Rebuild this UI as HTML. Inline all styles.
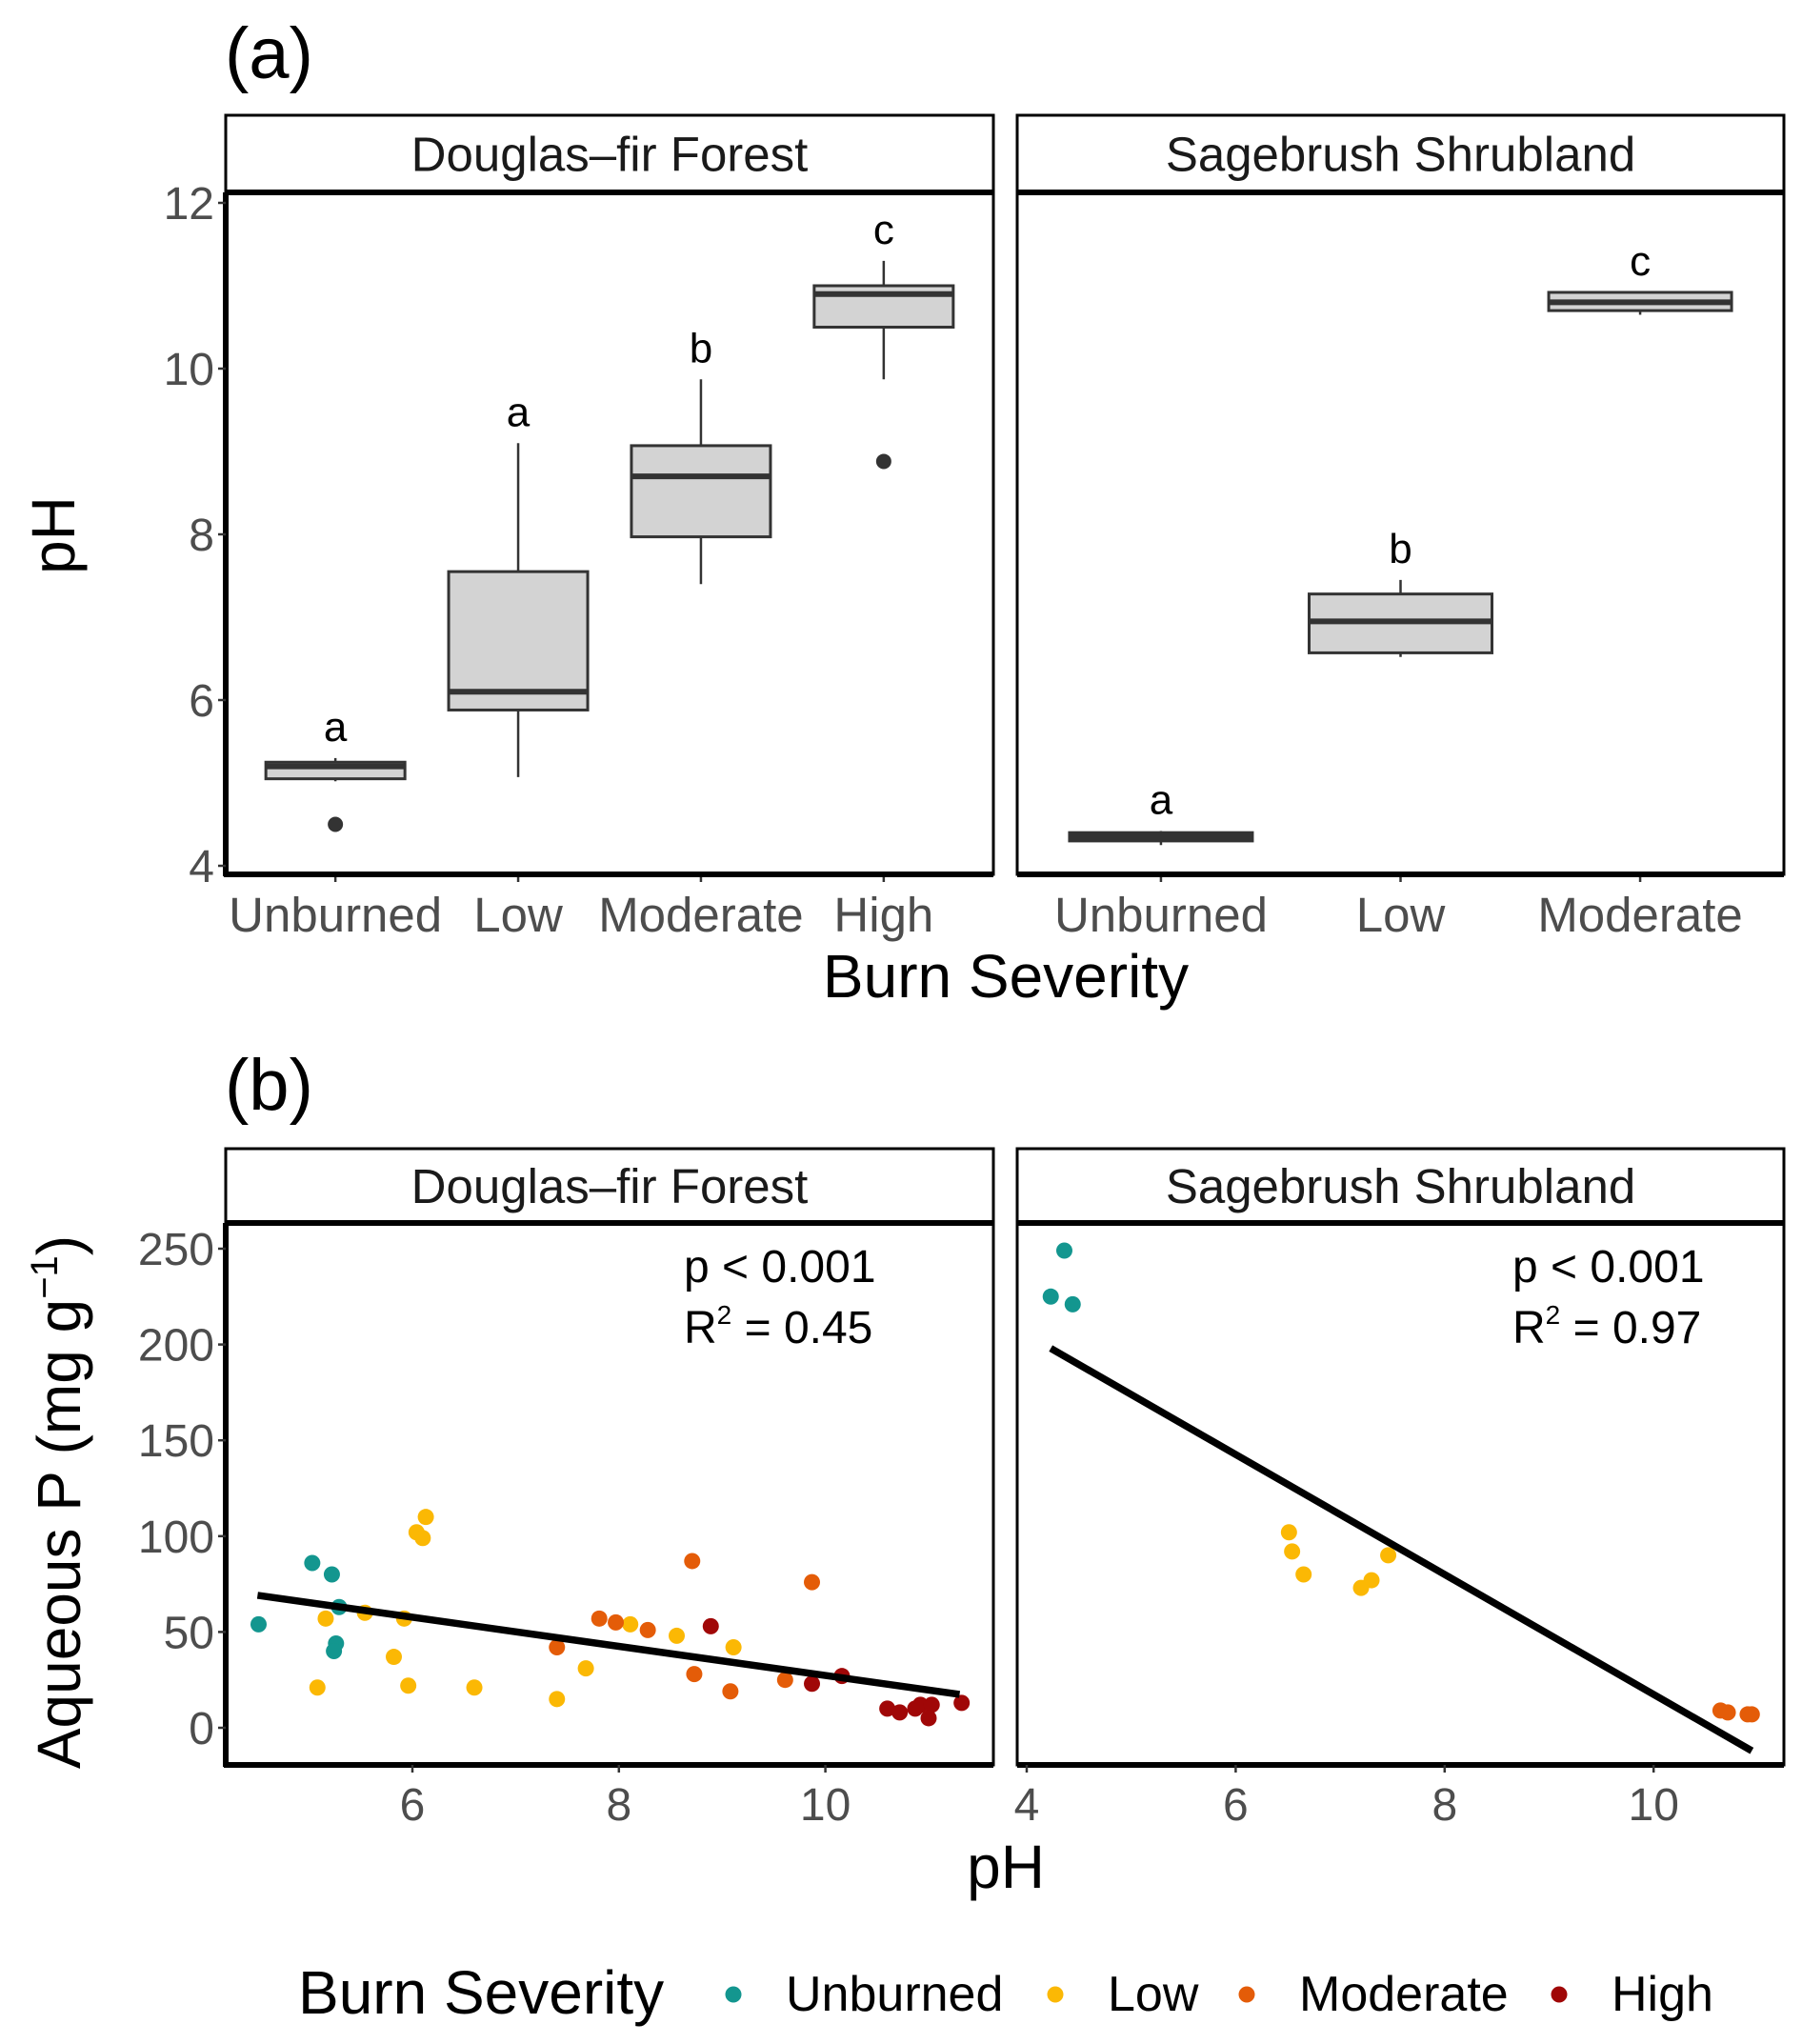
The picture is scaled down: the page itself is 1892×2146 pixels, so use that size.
<!DOCTYPE html>
<html><head><meta charset="utf-8"><style>
html,body{margin:0;padding:0;background:#fff}
svg{display:block}
text{font-family:"Liberation Sans",Arial,sans-serif}
</style></head><body>
<svg id="fig" xmlns="http://www.w3.org/2000/svg" width="1892" height="2146" viewBox="0 0 1892 2146"></svg>
<script>
// ---------- Panel (a) data ----------
const dfCats = ["Unburned","Low","Moderate","High"];
const dfQ1 = [5.05, 5.88, 7.97, 10.5];
const dfMed = [5.2, 6.1, 8.7, 10.9];
const dfQ3 = [5.25, 7.55, 9.07, 11.0];
const dfLo = [5.02, 5.07, 7.4, 9.87];
const dfHi = [5.3, 9.1, 9.87, 11.3];
const dfOut = [[4.5], [], [], [8.88]];
const dfLetters = ["a","a","b","c"];
const ssCats = ["Unburned","Low","Moderate"];
const ssQ1 = [4.3, 6.57, 10.7];
const ssMed = [4.35, 6.95, 10.8];
const ssQ3 = [4.4, 7.28, 10.92];
const ssLo = [4.25, 6.52, 10.65];
const ssHi = [4.42, 7.45, 10.92];
const ssLetters = ["a","b","c"];
const phTicks = [4, 6, 8, 10, 12];

// ---------- Panel (b) data ----------
const dfUnbX = [4.51, 5.03, 5.22, 5.29, 5.26, 5.24];
const dfUnbY = [54, 86, 80, 63, 44, 40];
const dfLowX = [5.16, 5.08, 5.54, 5.92, 5.82, 5.96, 6.04, 6.1, 6.13, 6.6, 7.4, 7.68, 8.11, 8.56, 9.11];
const dfLowY = [57, 21, 60, 57, 37, 22, 102, 99, 110, 21, 15, 31, 54, 48, 42];
const dfModX = [7.4, 7.81, 7.97, 8.28, 8.71, 8.73, 9.08, 9.61, 9.87];
const dfModY = [42, 57, 55, 51, 87, 28, 19, 25, 76];
const dfHighX = [8.89, 9.87, 10.16, 10.6, 10.72, 10.87, 10.92, 11.03, 11.0, 11.32];
const dfHighY = [53, 23, 27, 10, 8, 10, 12, 12, 5, 13];
const ssUnbX = [4.36, 4.23, 4.44];
const ssUnbY = [249, 225, 221];
const ssLowX = [6.51, 6.54, 6.65, 7.2, 7.3, 7.46];
const ssLowY = [102, 92, 80, 73, 77, 90];
const ssModX = [10.64, 10.71, 10.9, 10.94];
const ssModY = [9, 8, 7, 7];
const dfFit = [103.3, -7.6, 4.5, 11.3]; // intercept, slope, xmin, xmax
const ssFit = [330.4, -31.3, 4.23, 10.94];
const pTicksY = [0, 50, 100, 150, 200, 250];
const dfTicksX = [6, 8, 10];
const ssTicksX = [4, 6, 8, 10];

const colors = {Unburned:"#13968f", Low:"#fbb804", Moderate:"#e45c08", High:"#a00707"};
const NS = "http://www.w3.org/2000/svg";
const svg = document.getElementById("fig");
function mk(tag, attrs, parent, txt){
  const e = document.createElementNS(NS, tag);
  for (const k in attrs) e.setAttribute(k, attrs[k]);
  if (txt !== undefined) e.textContent = txt;
  (parent || svg).appendChild(e);
  return e;
}

// ---------- layout ----------
const LX0=237, LX1=1043, RX0=1068, RX1=1873;
const aStripT=121, aTop=202, aBot=918;
const bStripT=1206, bTop=1284, bBot=1853;
const yA = v => 387 + (10 - v) * 87;
const yB = v => 1814 - v * 2.012;
const xBL = v => 433 + (v - 6) * 108.4;
const xBR = v => 1078 + (v - 4) * 109.7;

function strip(x0, x1, top, bot, label, name){
  const g = mk("g", {});
  
  
  mk("rect", {x:x0, y:top, width:x1-x0, height:bot-top, fill:"#fff", stroke:"#000", "stroke-width":3}, g);
  mk("line", {x1:x0, x2:x1, y1:bot, y2:bot, stroke:"#000", "stroke-width":6}, g);
  mk("text", {x:(x0+x1)/2, y:(top+bot)/2+18, "text-anchor":"middle", "font-size":51, fill:"#1a1a1a"}, g, label);
}
function panelBox(x0, x1, top, bot, name){
  const r = mk("rect", {x:x0, y:top, width:x1-x0, height:bot-top, fill:"none", stroke:"#000", "stroke-width":3});
  
  
}

let t = mk("text", {x:236, y:82, "font-size":76, fill:"#000"}, svg, "(a)");
 
t = mk("text", {x:236, y:1165, "font-size":76, fill:"#000"}, svg, "(b)");
 

// ---------- Panel (a) ----------
strip(LX0, LX1, aStripT, aTop, "Douglas\u2013fir Forest", "strip-douglas-fir-a");
strip(RX0, RX1, aStripT, aTop, "Sagebrush Shrubland", "strip-sagebrush-a");

function boxes(cats, q1, med, q3, lo, hi, outs, letters, x0, x1, half, prefix){
  const step = (x1 - x0) / (cats.length - 1 + 1.2);
  cats.forEach((c, i) => {
    const cx = x0 + step * (0.6 + i);
    const g = mk("g", {});
    
    
    mk("line", {x1:cx, x2:cx, y1:yA(hi[i]), y2:yA(lo[i]), stroke:"#333", "stroke-width":2.5}, g);
    mk("rect", {x:cx-half, y:yA(q3[i]), width:half*2, height:yA(q1[i])-yA(q3[i]), fill:"#d3d3d3", stroke:"#333", "stroke-width":3}, g);
    mk("line", {x1:cx-half, x2:cx+half, y1:yA(med[i]), y2:yA(med[i]), stroke:"#333", "stroke-width":6}, g);
    (outs[i] || []).forEach(o => {
      const p = mk("circle", {cx:cx, cy:yA(o), r:8, fill:"#333"}, g);
      
      
    });
    const l = mk("text", {x:cx, y:yA(hi[i]) - 18, "text-anchor":"middle", "font-size":44, fill:"#000"}, svg, letters[i]);
    
    
    mk("line", {x1:cx, x2:cx, y1:aBot, y2:aBot+8, stroke:"#333", "stroke-width":2.5});
    const tl = mk("text", {x:cx, y:aBot+60, "text-anchor":"middle", "font-size":51, fill:"#4d4d4d"}, svg, c);
    
    
  });
}
boxes(dfCats, dfQ1, dfMed, dfQ3, dfLo, dfHi, dfOut, dfLetters, LX0, LX1, 73, "df");
boxes(ssCats, ssQ1, ssMed, ssQ3, ssLo, ssHi, [], ssLetters, RX0, RX1, 96, "ss");
panelBox(LX0, LX1, aTop, aBot, "panel-a-douglas-fir");
panelBox(RX0, RX1, aTop, aBot, "panel-a-sagebrush");
mk("line", {x1:LX0, x2:LX0, y1:aTop, y2:aBot+2, stroke:"#000", "stroke-width":6});
mk("line", {x1:LX0-2, x2:LX1, y1:aBot, y2:aBot, stroke:"#000", "stroke-width":6});
mk("line", {x1:RX0, x2:RX1, y1:aBot, y2:aBot, stroke:"#000", "stroke-width":6});
phTicks.forEach(v => {
  mk("line", {x1:LX0-8, x2:LX0, y1:yA(v), y2:yA(v), stroke:"#333", "stroke-width":2.5});
  const tl = mk("text", {x:LX0-12, y:yA(v)+17, "text-anchor":"end", "font-size":48, fill:"#4d4d4d"}, svg, v);
  
  
});
t = mk("text", {x:0, y:0, "text-anchor":"middle", "font-size":64, fill:"#000", transform:"translate(78,562) rotate(-90)"}, svg, "pH");
 
t = mk("text", {x:1056, y:1047, "text-anchor":"middle", "font-size":64, fill:"#000"}, svg, "Burn Severity");
 

// ---------- Panel (b) ----------
strip(LX0, LX1, bStripT, bTop, "Douglas\u2013fir Forest", "strip-douglas-fir-b");
strip(RX0, RX1, bStripT, bTop, "Sagebrush Shrubland", "strip-sagebrush-b");

function points(xs, ys, xf, cls, name){
  xs.forEach((x, i) => {
    const c = mk("circle", {cx:xf(x), cy:yB(ys[i]), r:8.5, fill:colors[cls]});
    
    
  });
}
points(dfUnbX, dfUnbY, xBL, "Unburned", "df-point-unburned");
points(dfLowX, dfLowY, xBL, "Low", "df-point-low");
points(dfModX, dfModY, xBL, "Moderate", "df-point-moderate");
points(dfHighX, dfHighY, xBL, "High", "df-point-high");
points(ssUnbX, ssUnbY, xBR, "Unburned", "ss-point-unburned");
points(ssLowX, ssLowY, xBR, "Low", "ss-point-low");
points(ssModX, ssModY, xBR, "Moderate", "ss-point-moderate");

function fit(f, xf, name){
  const [b, m, a0, a1] = f;
  const l = mk("line", {x1:xf(a0), y1:yB(b + m*a0), x2:xf(a1), y2:yB(b + m*a1), stroke:"#000", "stroke-width":7.5});
  
  
}
fit(dfFit, xBL, "df-regression-line");
fit(ssFit, xBR, "ss-regression-line");

panelBox(LX0, LX1, bTop, bBot, "panel-b-douglas-fir");
panelBox(RX0, RX1, bTop, bBot, "panel-b-sagebrush");
mk("line", {x1:LX0, x2:LX0, y1:bTop, y2:bBot+2, stroke:"#000", "stroke-width":6});
mk("line", {x1:LX0-2, x2:LX1, y1:bBot, y2:bBot, stroke:"#000", "stroke-width":6});
mk("line", {x1:RX0, x2:RX1, y1:bBot, y2:bBot, stroke:"#000", "stroke-width":6});
pTicksY.forEach(v => {
  mk("line", {x1:LX0-8, x2:LX0, y1:yB(v), y2:yB(v), stroke:"#333", "stroke-width":2.5});
  const tl = mk("text", {x:LX0-12, y:yB(v)+17, "text-anchor":"end", "font-size":48, fill:"#4d4d4d"}, svg, v);
  
  
});
dfTicksX.forEach(v => {
  mk("line", {x1:xBL(v), x2:xBL(v), y1:bBot, y2:bBot+8, stroke:"#333", "stroke-width":2.5});
  const tl = mk("text", {x:xBL(v), y:bBot+58, "text-anchor":"middle", "font-size":48, fill:"#4d4d4d"}, svg, v);
  
  
});
ssTicksX.forEach(v => {
  mk("line", {x1:xBR(v), x2:xBR(v), y1:bBot, y2:bBot+8, stroke:"#333", "stroke-width":2.5});
  const tl = mk("text", {x:xBR(v), y:bBot+58, "text-anchor":"middle", "font-size":48, fill:"#4d4d4d"}, svg, v);
  
  
});
function stats(x, r2, name){
  const g = mk("g", {});
  
  
  mk("text", {x:x, y:1346, "font-size":48, fill:"#000"}, g, "p < 0.001");
  const tx = mk("text", {x:x, y:1410, "font-size":48, fill:"#000"}, g);
  tx.innerHTML = 'R<tspan dy="-20" font-size="28">2</tspan><tspan dy="20"> = ' + r2 + '</tspan>';
}
stats(718, "0.45", "df-stats");
stats(1588, "0.97", "ss-stats");

t = mk("text", {x:0, y:0, "text-anchor":"middle", "font-size":64, fill:"#000", transform:"translate(84,1577) rotate(-90)"}, svg);
t.innerHTML = 'Aqueous P (mg g<tspan dy="-24" font-size="40">\u22121</tspan><tspan dy="24">)</tspan>';
 
t = mk("text", {x:1056, y:1982, "text-anchor":"middle", "font-size":64, fill:"#000"}, svg, "pH");
 

// ---------- Legend ----------
const legCats = ["Unburned","Low","Moderate","High"];
const legDotX = [770, 1108, 1309, 1637];
const lg = mk("g", {});


mk("text", {x:313, y:2114, "font-size":64, fill:"#000"}, lg, "Burn Severity");
legCats.forEach((c, i) => {
  const e = mk("g", {}, lg);
  
  
  mk("circle", {cx:legDotX[i], cy:2094, r:8.5, fill:colors[c]}, e);
  mk("text", {x:legDotX[i]+55, y:2111, "font-size":52, fill:"#000"}, e, c);
});
</script>
</body></html>
